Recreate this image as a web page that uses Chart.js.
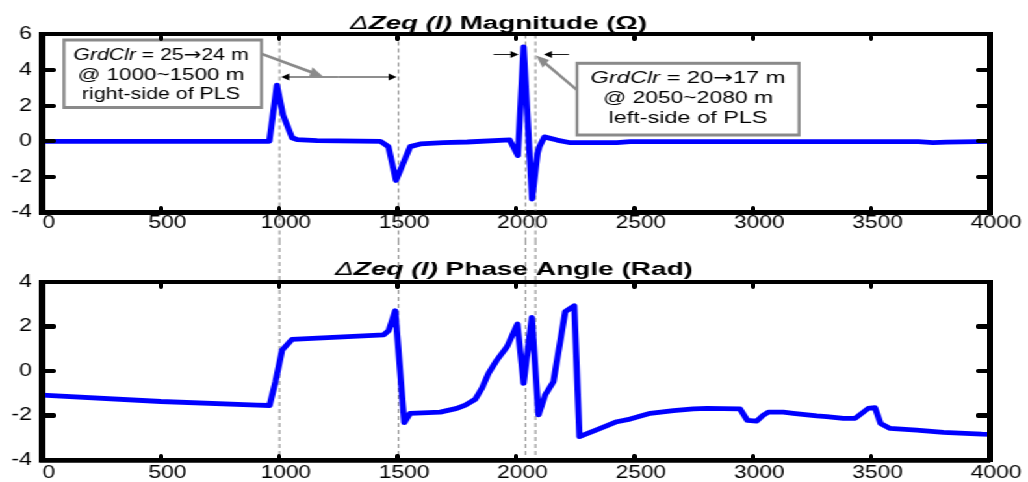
<!DOCTYPE html>
<html><head><meta charset="utf-8">
<script src="https://cdn.jsdelivr.net/npm/chart.js@4.4.1/dist/chart.umd.min.js"></script>
<style>
html,body{margin:0;padding:0;background:#fff;overflow:hidden;width:1028px;height:482px;}
#wrap{position:absolute;left:0;top:0;width:791px;height:482px;transform:scaleX(1.299620733);transform-origin:0 0;}
canvas{display:block;}
.axbox{position:absolute;box-sizing:border-box;border-style:solid;border-color:#000;border-width:4.8px 6px;pointer-events:none;z-index:5;}
.tk{position:absolute;background:#000;border-radius:2px;pointer-events:none;z-index:5;}
</style></head><body>
<div id="wrap">
<canvas id="c1" width="791" height="241" style="width:791px;height:241px"></canvas>
<canvas id="c2" width="791" height="241" style="width:791px;height:241px"></canvas>
</div>
<script>
// ---- data ----
const xTickValues = [0, 500, 1000, 1500, 2000, 2500, 3000, 3500, 4000];
const magTickValues = [-4, -2, 0, 2, 4, 6];
const phaseTickValues = [-4, -2, 0, 2, 4];
const markerX = [1000, 1500, 2040, 2080];

const magX = [0, 958, 990, 1016, 1054, 1075, 1160, 1427, 1461, 1493, 1553, 1596, 1693, 1794, 1973, 2008, 2032, 2068, 2091, 2099, 2120, 2173, 2229, 2426, 2482, 3700, 3761, 3819, 4000];
const magY = [0, 0, 3.15, 1.48, 0.2, 0.1, 0.04, 0, -0.3, -2.2, -0.3, -0.15, -0.08, -0.04, 0.08, -0.8, 5.3, -3.25, -0.67, -0.3, 0.25, 0.07, -0.08, -0.07, -0.02, -0.02, -0.08, -0.05, 0];

const phaseX = [0, 500, 906, 959, 984, 1012, 1054, 1441, 1462, 1490, 1528, 1553, 1680, 1750, 1786, 1828, 1856, 1884, 1919, 1962, 2006, 2032, 2067, 2095, 2123, 2158, 2208, 2246, 2268, 2356, 2426, 2482, 2567, 2665, 2749, 2806, 2946, 2977, 3017, 3045, 3066, 3129, 3171, 3270, 3312, 3382, 3432, 3488, 3516, 3540, 3580, 3692, 3805, 3967, 4000];
const phaseY = [-1.08, -1.37, -1.53, -1.55, -0.48, 0.94, 1.42, 1.62, 1.81, 2.71, -2.32, -1.9, -1.85, -1.68, -1.53, -1.27, -0.78, -0.1, 0.49, 1.09, 2.11, -0.55, 2.41, -1.97, -1.08, -0.48, 2.67, 2.93, -2.95, -2.58, -2.28, -2.16, -1.9, -1.78, -1.7, -1.68, -1.7, -2.22, -2.25, -1.98, -1.85, -1.85, -1.9, -2.02, -2.05, -2.13, -2.13, -1.68, -1.65, -2.36, -2.58, -2.66, -2.76, -2.84, -2.85];

const magTitle = [{t:'\u0394', s:'italic'}, {t:'Zeq (l)', s:'italic bold'}, {t:' Magnitude (\u03A9)', s:'bold'}];
const phaseTitle = [{t:'\u0394', s:'italic'}, {t:'Zeq (l)', s:'italic bold'}, {t:' Phase Angle (Rad)', s:'bold'}];
const ARROWFONT = '"DejaVu Sans", sans-serif';
const note1 = [
  [{t:'GrdClr', s:'italic'}, {t:' = 25', s:'normal'}, {t:'\u2192', s:'normal', f:ARROWFONT}, {t:'24 m', s:'normal'}],
  [{t:'@ 1000~1500 m', s:'normal'}],
  [{t:'right-side of PLS', s:'normal'}]
];
const note2 = [
  [{t:'GrdClr', s:'italic'}, {t:' = 20', s:'normal'}, {t:'\u2192', s:'normal', f:ARROWFONT}, {t:'17 m', s:'normal'}],
  [{t:'@ 2050~2080 m', s:'normal'}],
  [{t:'left-side of PLS', s:'normal'}]
];

// ---- drawing helpers ----
const S = 1028 / 791;
const FONT = '"Liberation Sans", Arial, Helvetica, sans-serif';

function drawRich(ctx, segs, cx, baseline, size, targetW) {
  let total = 0;
  const fontOf = s => s.s + ' ' + size + 'px ' + (s.f || FONT);
  const ws = segs.map(s => { ctx.font = fontOf(s); const w = ctx.measureText(s.t).width; total += w; return w; });
  const k = targetW ? targetW / total : 1;
  ctx.save();
  ctx.translate(cx - total * k / 2, baseline);
  ctx.scale(k, 1);
  ctx.fillStyle = '#000';
  ctx.textAlign = 'left';
  ctx.textBaseline = 'alphabetic';
  let x = 0;
  segs.forEach((s, i) => { ctx.font = fontOf(s); ctx.fillText(s.t, x, 0); x += ws[i]; });
  ctx.restore();
}

function arrow(ctx, x1, y1, x2, y2, color, width, len, hw) {
  const ang = Math.atan2(y2 - y1, x2 - x1);
  ctx.save();
  ctx.strokeStyle = color; ctx.fillStyle = color; ctx.lineWidth = width; ctx.setLineDash([]);
  ctx.beginPath(); ctx.moveTo(x1, y1);
  ctx.lineTo(x2 - Math.cos(ang) * len * 0.8, y2 - Math.sin(ang) * len * 0.8); ctx.stroke();
  ctx.translate(x2, y2); ctx.rotate(ang);
  ctx.beginPath(); ctx.moveTo(0, 0); ctx.lineTo(-len, -hw); ctx.lineTo(-len, hw); ctx.closePath(); ctx.fill();
  ctx.restore();
}

function noteBox(ctx, x1, y1, x2, y2, lines, cx, baselines, widths) {
  ctx.save();
  ctx.fillStyle = '#fff'; ctx.strokeStyle = '#8a8a8a'; ctx.lineWidth = 3; ctx.setLineDash([]);
  ctx.fillRect(x1, y1, x2 - x1, y2 - y1);
  ctx.strokeRect(x1, y1, x2 - x1, y2 - y1);
  ctx.restore();
  lines.forEach((l, i) => drawRich(ctx, l, cx, baselines[i], 17, widths[i]));
}

// axes box and inward ticks as page elements, placed from the chart's own scales
function addAxesBox(chart, offsetY, yTicks) {
  const a = chart.chartArea, xs = chart.scales.x, ys = chart.scales.y;
  const box = document.createElement('div');
  box.className = 'axbox';
  box.style.left = (a.left * S - 3) + 'px';
  box.style.top = (offsetY + a.top - 2.4) + 'px';
  box.style.width = ((a.right - a.left) * S + 6) + 'px';
  box.style.height = ((a.bottom - a.top) + 4.8) + 'px';
  document.body.appendChild(box);
  const tick = (l, t, w, h) => {
    const d = document.createElement('div'); d.className = 'tk';
    d.style.left = l + 'px'; d.style.top = t + 'px'; d.style.width = w + 'px'; d.style.height = h + 'px';
    document.body.appendChild(d);
  };
  yTicks.slice(1, -1).forEach(v => {
    const py = offsetY + ys.getPixelForValue(v);
    tick(a.left * S, py - 2.1, 14, 4.2);
    tick(a.right * S - 14, py - 2.1, 14, 4.2);
  });
  xTickValues.slice(1, -1).forEach(v => {
    const px = xs.getPixelForValue(v) * S;
    tick(px - 2.2, offsetY + a.top, 4.4, 6.5);
    tick(px - 2.2, offsetY + a.bottom - 6.5, 4.4, 6.5);
  });
}

function makeFig(cfg) {
  return {
    id: 'fig_' + cfg.name,
    beforeDatasetsDraw(chart) {
      const {ctx, chartArea: a, scales: {x}} = chart;
      ctx.save();
      ctx.scale(1 / S, 1);
      ctx.strokeStyle = '#707070'; ctx.lineWidth = 1; ctx.setLineDash([4, 3]);
      markerX.forEach(v => {
        const px = Math.round(x.getPixelForValue(v) * S) + 0.5;
        ctx.beginPath();
        ctx.moveTo(px, cfg.dashFromArea ? a.top : 0);
        ctx.lineTo(px, cfg.dashToArea ? a.bottom + 2 : chart.height);
        ctx.stroke();
      });
      ctx.restore();
    },
    afterDraw(chart) {
      const {ctx, scales: {x}} = chart;
      ctx.save();
      ctx.scale(1 / S, 1);
      drawRich(ctx, cfg.title, cfg.titleCx, cfg.titleBase, 18.8, cfg.titleW);
      if (cfg.notes) {
        const p = v => x.getPixelForValue(v) * S;
        arrow(ctx, (p(1000) + p(1500)) / 2, 77, p(1000) + 2, 77, '#000', 1, 8, 3.5);
        arrow(ctx, (p(1000) + p(1500)) / 2, 77, p(1500) - 1, 77, '#000', 1, 8, 3.5);
        arrow(ctx, p(2040) - 32, 54.5, p(2040) - 7, 54.5, '#000', 1, 8, 3.5);
        arrow(ctx, p(2080) + 34, 54.5, p(2080) + 9, 54.5, '#000', 1, 8, 3.5);
        arrow(ctx, 262, 54, 323, 76.5, '#8a8a8a', 2.8, 13, 5);
        arrow(ctx, 577, 90, 536, 55.5, '#8a8a8a', 2.8, 13, 5);
        noteBox(ctx, 64, 40, 261.5, 107.5, note1, 161, [60, 80, 98.5], [175, 167, 158]);
        noteBox(ctx, 577, 63.3, 799, 135, note2, 688, [83.3, 103.3, 123.3], [195, 170, 159]);
      }
      ctx.restore();
    }
  };
}

function makeChart(id, offsetY, xs, ys, yTicks, cfg) {
  const setX = s => { s.ticks = xTickValues.map(v => ({value: v})); };
  const setY = s => { s.ticks = yTicks.map(v => ({value: v})); };
  const chart = new Chart(document.getElementById(id), {
    type: 'line',
    data: { datasets: [{
      data: xs.map((v, i) => ({x: v, y: ys[i]})),
      borderColor: '#0000ff', backgroundColor: '#0000ff',
      borderWidth: 4.8, pointRadius: 0, tension: 0, fill: false,
      borderJoinStyle: 'round', borderCapStyle: 'round'
    }]},
    options: {
      responsive: false, animation: false, devicePixelRatio: 1,
      events: [],
      layout: { padding: { top: cfg.top, right: 29.6, left: 0, bottom: 0 } },
      plugins: { legend: { display: false }, tooltip: { enabled: false }, title: { display: false } },
      scales: {
        x: {
          type: 'linear', min: 0, max: 4000, afterBuildTicks: setX,
          grid: { display: false, drawTicks: false }, border: { display: true, color: '#000', width: 4.8 },
          ticks: { font: { family: FONT, size: 17.5 }, color: '#000', padding: cfg.xPad, maxRotation: 0, autoSkip: false, labelOffset: 5, callback: v => String(v) },
          afterFit: s => { s.height = cfg.xH; }
        },
        y: {
          type: 'linear', min: yTicks[0], max: yTicks[yTicks.length - 1], afterBuildTicks: setY,
          grid: { display: false, drawTicks: false }, border: { display: true, color: '#000', width: 4.8 },
          ticks: { font: { family: FONT, size: 17.5 }, color: '#000', padding: 8.3, autoSkip: false, callback: v => String(v) },
          afterFit: s => { s.width = 32.7; }
        }
      }
    },
    plugins: [makeFig(cfg.fig)]
  });
  addAxesBox(chart, offsetY, yTicks);
  return chart;
}

makeChart('c1', 0, magX, magY, magTickValues, {
  top: 34.5, xH: 28.5, xPad: 0,
  fig: { name: 'mag', title: magTitle, titleCx: 498.5, titleBase: 28.5, titleW: 297, notes: true, dashFromArea: true, dashToArea: false }
});
makeChart('c2', 241, phaseX, phaseY, phaseTickValues, {
  top: 41, xH: 22, xPad: 3,
  fig: { name: 'phase', title: phaseTitle, titleCx: 514, titleBase: 34, titleW: 358, notes: false, dashFromArea: false, dashToArea: true }
});
</script>
</body></html>
